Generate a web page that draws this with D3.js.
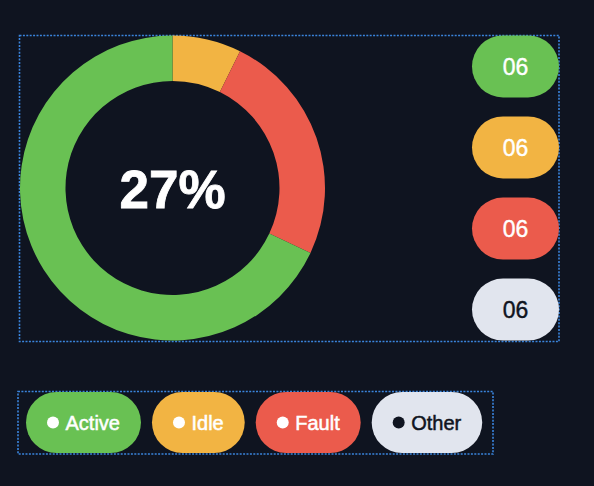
<!DOCTYPE html>
<html><head><meta charset="utf-8">
<script src="https://cdn.jsdelivr.net/npm/d3@7"></script>
<style>html,body{margin:0;padding:0;background:#0f1420;}svg{display:block;}</style>
</head><body>
<svg id="c" width="594" height="486"></svg>
<script>
// Data
const categories = ["Active", "Idle", "Fault", "Other"];
const colors = ["#69c153", "#f2b443", "#eb5b4c", "#e1e5ee"];
const textColors = ["#ffffff", "#ffffff", "#ffffff", "#0f1420"];
const badgeLabels = ["06", "06", "06", "06"];
// donut slices, clockwise from 12 o'clock
const sliceNames = ["Idle", "Fault", "Active"];
const sliceValues = [7.3, 24.7, 68];
const centerLabel = "27%";

const svg = d3.select("#c");
const colorOf = d3.scaleOrdinal().domain(categories).range(colors);
const font = "'Liberation Sans', Arial, sans-serif";
const frameColor = "#3a84dc";

// Top frame
svg.append("rect").attr("x", 19.5).attr("y", 35.5).attr("width", 539.5).attr("height", 306)
  .attr("fill", "none").attr("stroke", frameColor).attr("stroke-width", 1.6).attr("stroke-dasharray", "2,1.4");

// Donut
const cx = 172.5, cy = 188, rO = 152.5, rI = 107;
const pie = d3.pie().sort(null).value(d => d.v);
const arc = d3.arc().innerRadius(rI).outerRadius(rO);
const slices = sliceNames.map((n, i) => ({n, v: sliceValues[i]}));
svg.append("g").attr("transform", `translate(${cx},${cy})`)
  .selectAll("path").data(pie(slices)).join("path")
  .attr("d", arc).attr("fill", d => colorOf(d.data.n));

svg.append("text").attr("x", cx).attr("y", 208).attr("text-anchor", "middle")
  .attr("font-family", font).attr("font-weight", "bold").attr("font-size", 53)
  .attr("fill", "#ffffff").attr("stroke", "#ffffff").attr("stroke-width", 0.8).text(centerLabel);

// Right badges
const by = d3.scaleBand().domain(categories).range([35.5, 340.5]).paddingInner(0.235).paddingOuter(0);
const bg = svg.append("g").selectAll("g").data(categories).join("g")
  .attr("transform", d => `translate(472,${by(d)})`);
bg.append("rect").attr("width", 87).attr("height", by.bandwidth())
  .attr("rx", by.bandwidth() / 2).attr("fill", d => colorOf(d));
bg.append("text").attr("x", 43.5).attr("y", by.bandwidth() / 2 + 8.3)
  .attr("text-anchor", "middle").attr("font-family", font).attr("font-size", 23)
  .attr("fill", (d, i) => textColors[i]).attr("stroke", (d, i) => textColors[i]).attr("stroke-width", 0.4)
  .text((d, i) => badgeLabels[i]);

// Legend frame
svg.append("rect").attr("x", 18).attr("y", 391.5).attr("width", 475).attr("height", 62.5)
  .attr("fill", "none").attr("stroke", frameColor).attr("stroke-width", 1.6).attr("stroke-dasharray", "2,1.4");

// Legend pills
let lx = 26;
const ly = 392, lh = 61;
categories.forEach((c, i) => {
  const g = svg.append("g").attr("transform", `translate(${lx},${ly})`);
  const r = g.append("rect").attr("height", lh).attr("rx", lh / 2).attr("fill", colors[i]);
  g.append("circle").attr("cx", 27).attr("cy", 30.5).attr("r", 6).attr("fill", textColors[i]);
  const t = g.append("text").attr("x", 39.5).attr("y", 38).attr("font-family", font)
    .attr("font-size", 20).attr("fill", textColors[i])
    .attr("stroke", textColors[i]).attr("stroke-width", 0.5).text(c);
  const w = 39.5 + t.node().getComputedTextLength() + 21;
  r.attr("width", w);
  lx += w + 11;
});
</script>
</body></html>
